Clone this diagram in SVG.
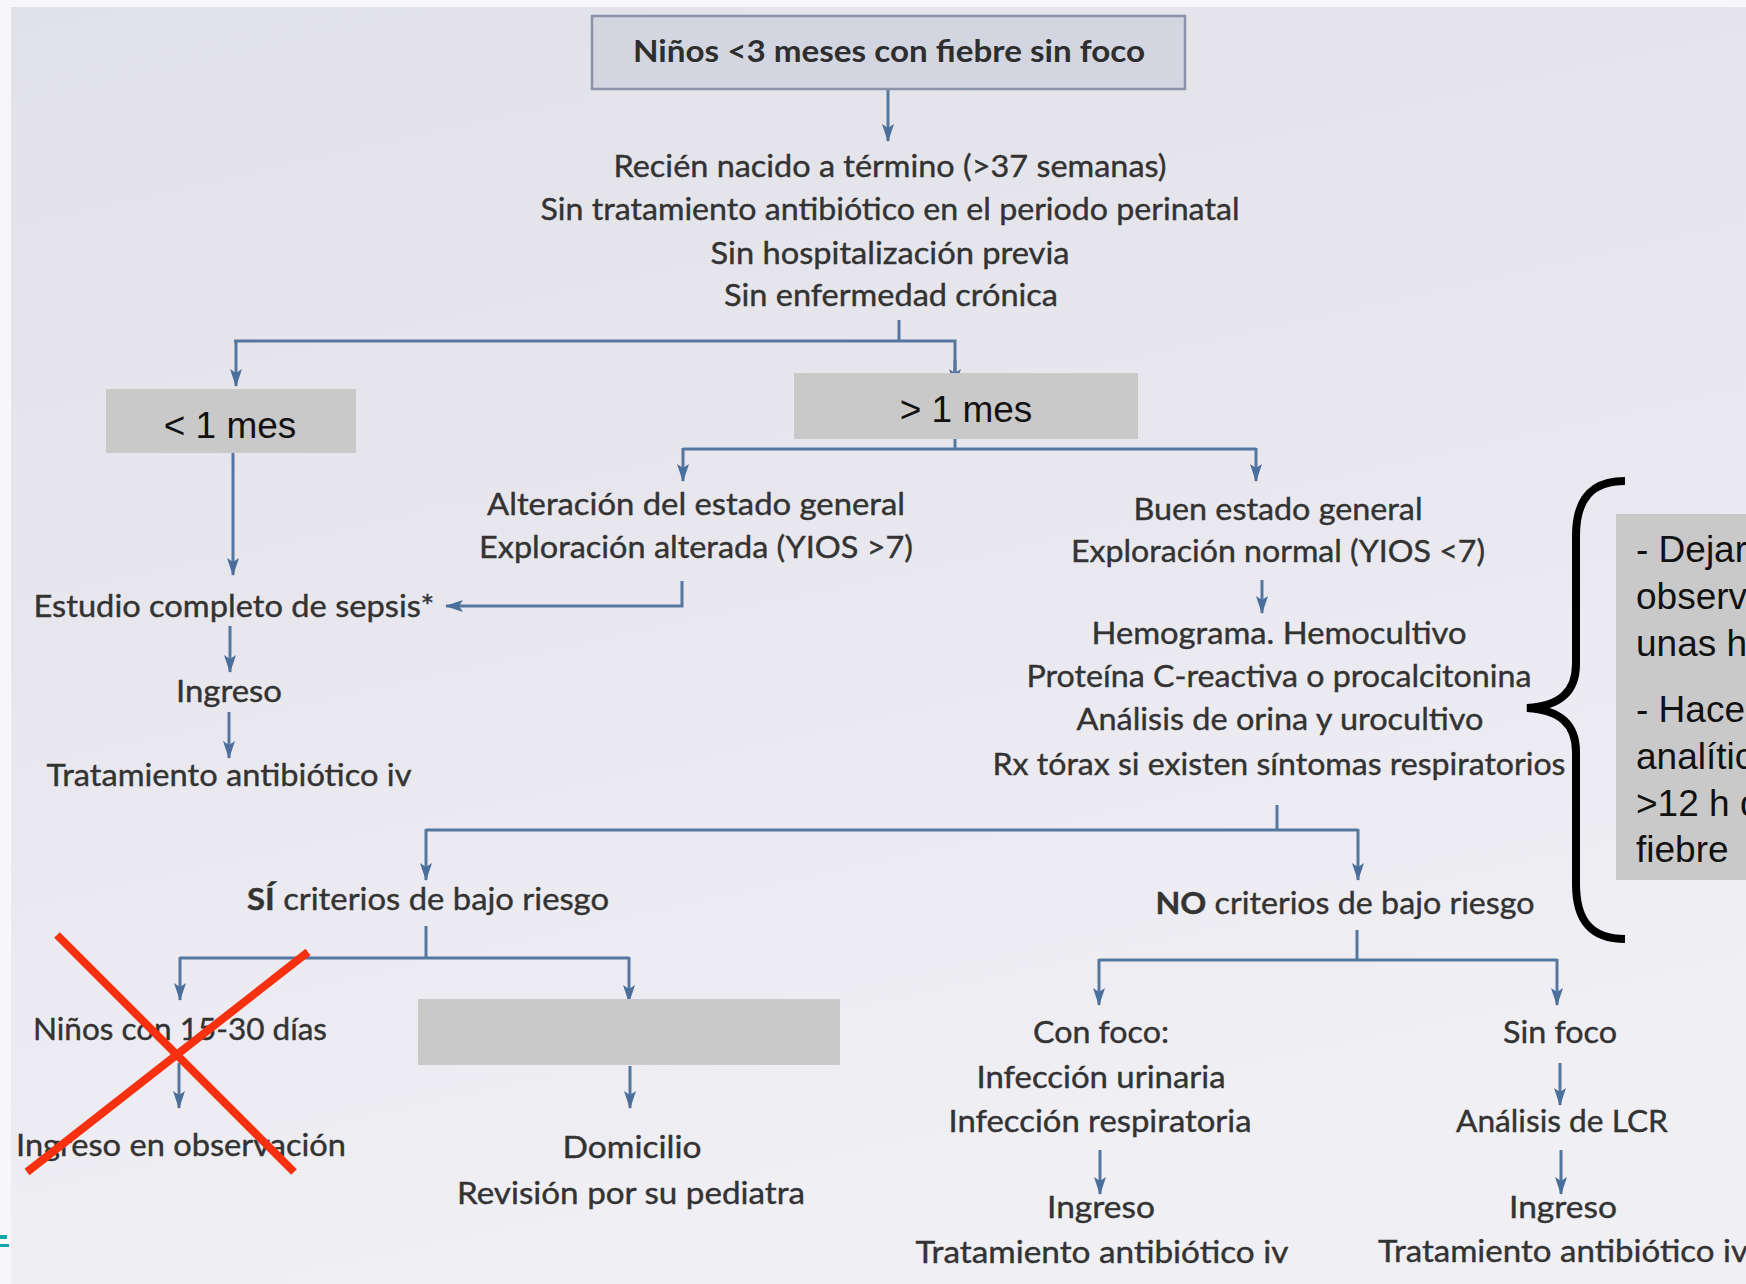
<svg xmlns="http://www.w3.org/2000/svg" width="1746" height="1284" viewBox="0 0 1746 1284">
  <style>
    .t { font-family: Lato, "Open Sans", sans-serif; font-size: 31px; fill: #333; stroke: #333; stroke-width: 0.4px; text-anchor: middle; }
    .tb { font-family: Lato, "Open Sans", sans-serif; font-size: 30px; font-weight: bold; fill: #2e2e2e; text-anchor: middle; }
    .a { font-family: "Liberation Sans", Arial, sans-serif; font-size: 37px; fill: #111; }
    .gbox { fill: #c9c9c9; }
    .c { fill: none; stroke: #55779f; stroke-width: 3; }
    .ca { fill: none; stroke: #55779f; stroke-width: 3; marker-end: url(#ah); }
  </style>
  <defs>
    <linearGradient id="bg" x1="0" y1="0" x2="0.3" y2="1">
      <stop offset="0" stop-color="#e1e1e8"/>
      <stop offset="0.5" stop-color="#e8e7ee"/>
      <stop offset="1" stop-color="#f0eff4"/>
    </linearGradient>
    <marker id="ah" markerUnits="userSpaceOnUse" markerWidth="18" markerHeight="12" refX="17" refY="6" orient="auto">
      <path d="M0,0 L18,6 L0,12 L4,6 z" fill="#4a6f9c"/>
    </marker>
  </defs>

  <!-- page background -->
  <rect x="0" y="0" width="1746" height="1284" fill="url(#bg)"/>
  <rect x="0" y="0" width="11" height="1284" fill="#f7f7f9"/>
  <rect x="0" y="0" width="1746" height="7" fill="#f7f7f9"/>
  <rect x="0" y="1235" width="7" height="4" fill="#12a8a8"/>
  <rect x="0" y="1244" width="9" height="3" fill="#12a8a8"/>

  <!-- connectors -->
  <g id="connectors">
    <path class="ca" d="M888,89 V141"/>
    <path class="c" d="M899,320 V341"/>
    <path class="ca" d="M236,341 V386"/>
    <path class="c" d="M234,341 H955 V372"/>
    <path class="ca" d="M955,360 V386"/>
    <path class="c" d="M955,439 V449"/>
    <path class="c" d="M683,449 H1256"/>
    <path class="ca" d="M683,448 V481"/>
    <path class="ca" d="M1256,448 V481"/>
    <path class="ca" d="M682,581 V606 H446"/>
    <path class="ca" d="M233,453 V575"/>
    <path class="ca" d="M230,626 V672"/>
    <path class="ca" d="M229,712 V758"/>
    <path class="ca" d="M1262,580 V613"/>
    <path class="c" d="M1277,805 V830"/>
    <path class="c" d="M426,830 H1358"/>
    <path class="ca" d="M426,829 V880"/>
    <path class="ca" d="M1358,829 V880"/>
    <path class="c" d="M426,926 V958"/>
    <path class="c" d="M180,958 H629"/>
    <path class="ca" d="M180,957 V1000"/>
    <path class="ca" d="M629,957 V1002"/>
    <path class="ca" d="M179,1063 V1108"/>
    <path class="ca" d="M630,1066 V1108"/>
    <path class="c" d="M1357,930 V960"/>
    <path class="c" d="M1099,960 H1557"/>
    <path class="ca" d="M1099,959 V1005"/>
    <path class="ca" d="M1557,959 V1005"/>
    <path class="ca" d="M1100,1150 V1194"/>
    <path class="ca" d="M1560,1063 V1105"/>
    <path class="ca" d="M1561,1150 V1194"/>
  </g>

  <g id="n-title">
    <rect x="592" y="16" width="593" height="73" fill="#d3d6e0" stroke="#8a93a8" stroke-width="2.5"/>
    <text class="tb" x="889" y="62" textLength="512" lengthAdjust="spacingAndGlyphs">Niños &lt;3 meses con fiebre sin foco</text>
  </g>

  <g id="n-criterios">
    <text class="t" x="890" y="177" textLength="553" lengthAdjust="spacingAndGlyphs">Recién nacido a término (&gt;37 semanas)</text>
    <text class="t" x="890" y="220" textLength="699" lengthAdjust="spacingAndGlyphs">Sin tratamiento antibiótico en el periodo perinatal</text>
    <text class="t" x="890" y="264" textLength="359" lengthAdjust="spacingAndGlyphs">Sin hospitalización previa</text>
    <text class="t" x="891" y="306" textLength="334" lengthAdjust="spacingAndGlyphs">Sin enfermedad crónica</text>
  </g>

  <g id="n-menos1">
    <rect class="gbox" x="106" y="389" width="250" height="64"/>
    <text class="a" x="230" y="438" text-anchor="middle">&lt; 1 mes</text>
  </g>

  <g id="n-mas1">
    <rect class="gbox" x="794" y="373" width="344" height="66"/>
    <text class="a" x="966" y="422" text-anchor="middle">&gt; 1 mes</text>
  </g>

  <g id="n-alteracion">
    <text class="t" x="696" y="515" textLength="418" lengthAdjust="spacingAndGlyphs">Alteración del estado general</text>
    <text class="t" x="696" y="558" textLength="434" lengthAdjust="spacingAndGlyphs">Exploración alterada (YIOS &gt;7)</text>
  </g>

  <g id="n-buen">
    <text class="t" x="1278" y="520" textLength="289" lengthAdjust="spacingAndGlyphs">Buen estado general</text>
    <text class="t" x="1278" y="562" textLength="414" lengthAdjust="spacingAndGlyphs">Exploración normal (YIOS &lt;7)</text>
  </g>

  <g id="n-pruebas">
    <text class="t" x="1279" y="644" textLength="375" lengthAdjust="spacingAndGlyphs">Hemograma. Hemocultivo</text>
    <text class="t" x="1279" y="687" textLength="505" lengthAdjust="spacingAndGlyphs">Proteína C-reactiva o procalcitonina</text>
    <text class="t" x="1280" y="730" textLength="407" lengthAdjust="spacingAndGlyphs">Análisis de orina y urocultivo</text>
    <text class="t" x="1279" y="775" textLength="573" lengthAdjust="spacingAndGlyphs">Rx tórax si existen síntomas respiratorios</text>
  </g>

  <g id="n-sepsis">
    <text class="t" x="234" y="617" textLength="401" lengthAdjust="spacingAndGlyphs">Estudio completo de sepsis*</text>
  </g>
  <g id="n-ingreso1">
    <text class="t" x="229" y="702" textLength="106" lengthAdjust="spacingAndGlyphs">Ingreso</text>
  </g>
  <g id="n-tratamiento1">
    <text class="t" x="229" y="786" textLength="365" lengthAdjust="spacingAndGlyphs">Tratamiento antibiótico iv</text>
  </g>

  <g id="n-si">
    <text class="t" x="428" y="910" textLength="362" lengthAdjust="spacingAndGlyphs"><tspan font-weight="bold">SÍ</tspan> criterios de bajo riesgo</text>
  </g>
  <g id="n-no">
    <text class="t" x="1345" y="914" textLength="379" lengthAdjust="spacingAndGlyphs"><tspan font-weight="bold">NO</tspan> criterios de bajo riesgo</text>
  </g>

  <g id="n-ninos1530">
    <text class="t" x="180" y="1040" textLength="294" lengthAdjust="spacingAndGlyphs">Niños con 15-30 días</text>
  </g>
  <g id="n-observacion">
    <text class="t" x="181" y="1156" textLength="330" lengthAdjust="spacingAndGlyphs">Ingreso en observación</text>
  </g>

  <g id="n-blank">
    <rect class="gbox" x="418" y="999" width="422" height="66"/>
  </g>

  <g id="n-domicilio">
    <text class="t" x="632" y="1158" textLength="139" lengthAdjust="spacingAndGlyphs">Domicilio</text>
    <text class="t" x="631" y="1204" textLength="348" lengthAdjust="spacingAndGlyphs">Revisión por su pediatra</text>
  </g>

  <g id="n-confoco">
    <text class="t" x="1101" y="1043" textLength="136" lengthAdjust="spacingAndGlyphs">Con foco:</text>
    <text class="t" x="1101" y="1088" textLength="249" lengthAdjust="spacingAndGlyphs">Infección urinaria</text>
    <text class="t" x="1100" y="1132" textLength="303" lengthAdjust="spacingAndGlyphs">Infección respiratoria</text>
  </g>
  <g id="n-ingreso2">
    <text class="t" x="1101" y="1218" textLength="108" lengthAdjust="spacingAndGlyphs">Ingreso</text>
    <text class="t" x="1102" y="1263" textLength="373" lengthAdjust="spacingAndGlyphs">Tratamiento antibiótico iv</text>
  </g>

  <g id="n-sinfoco">
    <text class="t" x="1560" y="1043" textLength="114" lengthAdjust="spacingAndGlyphs">Sin foco</text>
  </g>
  <g id="n-lcr">
    <text class="t" x="1562" y="1132" textLength="212" lengthAdjust="spacingAndGlyphs">Análisis de LCR</text>
  </g>
  <g id="n-ingreso3">
    <text class="t" x="1563" y="1218" textLength="108" lengthAdjust="spacingAndGlyphs">Ingreso</text>
    <text class="t" x="1378" y="1262" style="text-anchor:start" textLength="370" lengthAdjust="spacingAndGlyphs">Tratamiento antibiótico iv</text>
  </g>

  <!-- curly brace and side note -->
  <g id="n-nota">
    <path d="M1625,481 C1592,481 1576,498 1576,536 L1576,664 C1576,692 1560,706 1527,708 C1560,710 1576,724 1576,752 L1576,884 C1576,922 1592,939 1625,939" fill="none" stroke="#000" stroke-width="8" stroke-linecap="butt"/>
    <rect class="gbox" x="1616" y="514" width="130" height="366"/>
    <text class="a" x="1636" y="562" font-size="36">- Dejar</text>
    <text class="a" x="1636" y="609" font-size="36">observ</text>
    <text class="a" x="1636" y="656" font-size="36">unas h</text>
    <text class="a" x="1636" y="722" font-size="36">- Hace</text>
    <text class="a" x="1636" y="769" font-size="36">analític</text>
    <text class="a" x="1636" y="816" font-size="36">&gt;12 h d</text>
    <text class="a" x="1636" y="862" font-size="36">fiebre</text>
  </g>

  <!-- red cross over the left branch -->
  <g id="n-tachado">
    <path d="M57,935 L294,1172 M308,952 L27,1172" stroke="#f7300f" stroke-width="8" fill="none"/>
  </g>
</svg>
